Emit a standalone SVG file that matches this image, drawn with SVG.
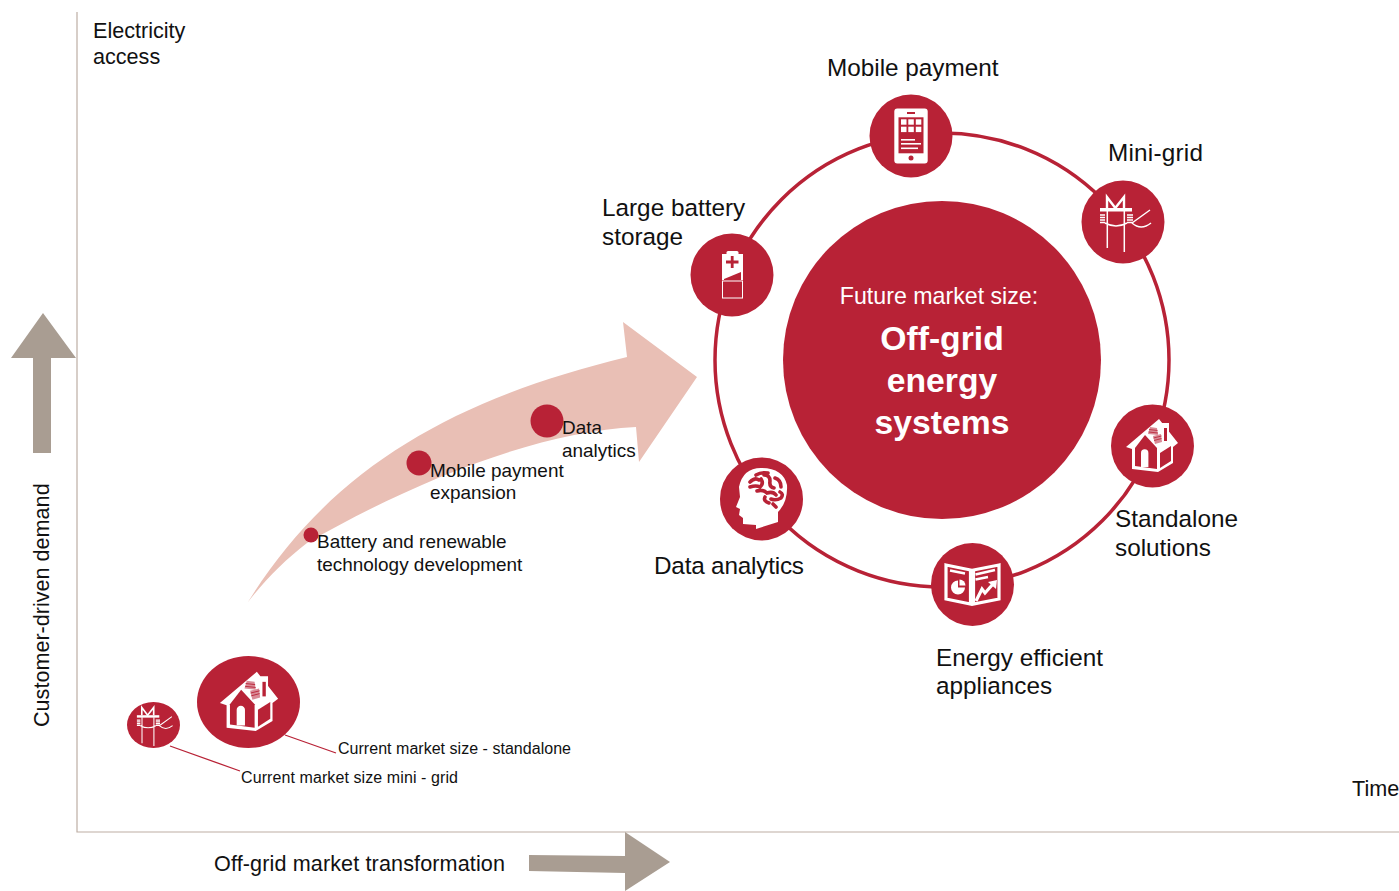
<svg xmlns="http://www.w3.org/2000/svg" width="1399" height="891" viewBox="0 0 1399 891">
<style>
text{font-family:"Liberation Sans",Arial,sans-serif;fill:#111}
.l{font-size:24.3px}.m{font-size:18.95px}.s{font-size:16px}.a{font-size:21.6px}
text.t{fill:#fff}
.r{fill:#b82236}.w{fill:#fff}
.wl{fill:none;stroke:#fff;stroke-width:1.5}
.wt{fill:none;stroke:#fff;stroke-width:2.4}
.bk{fill:none;stroke:#fff;stroke-width:3.2}
.ax{stroke:#bdaea4;stroke-width:1.2;fill:none}
.tan{fill:#a99d92}
.br{fill:none;stroke:#b82236;stroke-width:3.6;stroke-linecap:round}
</style>
<defs>
<g id="pylon">
<path d="M-16 -14V-25L-7.700 -14L1 -25V-14" class="wt"/>
<rect x="-23" y="-14" width="32" height="3.500" class="w"/>
<path class="wl" d="M-15.700 -11V26M1.300 -11V30M-23 -7H-18M-23 -4.500H-18M-23 -2H-18M-23 .5H-18M4 -7H10M4 -4.500H10M4 -2H10M4 .5H10M-18 1Q-7 7 4 1M9 1L27 -12M9 1Q18 9 28 1"/>
</g>
<g id="house">
<polygon class="w" points="-26,1 7,-27 26,-3 21,1 21,17 6,26 -20,23 -20,3"/>
<polygon class="r" points="-17,2 -7,-11 5,2 5,23 -17,20"/>
<path class="w" d="M-11 21V7a3.700 3.700 0 0 1 7.400 0V21z"/>
<polygon class="r" points="8,7 19,0 19,15 8,22"/>
<polygon points="-2,-19 5,-18 6,-11 -4,-12" fill="#d98a96"/>
<polygon points="1,-10 9,-12 10,-4 3,-2" fill="#d98a96"/>
<path d="M-3 -16.500L5.500 -15.500M-3.500 -14L6 -13M1.500 -8L9.500 -10M2 -5.500L9.500 -7.500" stroke="#b82236" stroke-width=".8" fill="none"/>
<rect x="10" y="-23" width="7" height="19" class="w"/>
<rect x="12" y="-18" width="3" height="13" class="r"/>
</g>
</defs>

<g id="axes">
<path class="ax" d="M77 12V832H1399"/>
<polygon class="tan" points="11,358 33,358 33,453 51,453 51,358 76,358 43,313"/>
<polygon class="tan" points="529,855 625,856 625,832 670,862 625,891 625,873 529,871"/>
</g>

<path id="growth-arrow" fill="#e9bfb5" d="M248 602C330 470 450 400 627 357L623 322L697 377L639 462L636 427C540 432 420 478 307 543C285 560 265 580 248 602Z"/>

<g id="connectors">
<circle cx="942" cy="360" r="227" fill="none" stroke="#b82236" stroke-width="3.500"/>
<path d="M170 746L240 771M285 735L336 753" stroke="#b82236" stroke-width="1.300" fill="none"/>
</g>

<g id="center">
<circle class="r" cx="942" cy="360" r="159"/>
<text class="t" x="939" y="304" text-anchor="middle" font-size="23.200">Future market size:</text>
<g font-size="33.700" font-weight="700" text-anchor="middle">
<text class="t" x="942" y="350">Off-grid</text>
<text class="t" x="942" y="392">energy</text>
<text class="t" x="942" y="434">systems</text>
</g>
</g>

<g id="node-mobile">
<circle class="r" cx="911" cy="136" r="41.500"/>
<g transform="translate(911 136)">
<rect x="-16.700" y="-27.500" width="33.400" height="55" rx="3" class="w"/>
<rect x="-12.500" y="-18.700" width="25" height="36" class="r"/>
<rect x="-4" y="-24" width="8" height="2" class="r"/>
<circle cy="22" r="2.500" class="r"/>
<g class="w"><rect x="-10" y="-16.700" width="5.500" height="5.400"/><rect x="-2.700" y="-16.700" width="5.500" height="5.400"/><rect x="4.800" y="-16.700" width="5.500" height="5.400"/><rect x="-10" y="-9.300" width="5.500" height="5.400"/><rect x="-2.700" y="-9.300" width="5.500" height="5.400"/><rect x="4.800" y="-9.300" width="5.500" height="5.400"/>
<rect x="-10" y="3" width="14" height="1.600"/><rect x="-10" y="7" width="20" height="1.600"/><rect x="-10" y="11.500" width="17" height="1.600"/></g>
</g>
<text class="l" x="827" y="76">Mobile payment</text>
</g>

<g id="node-minigrid">
<circle class="r" cx="1123" cy="222" r="41.500"/>
<use href="#pylon" transform="translate(1123 222)"/>
<text class="l" x="1108" y="161" textLength="95">Mini-grid</text>
</g>

<g id="node-standalone">
<circle class="r" cx="1152.500" cy="446" r="41.500"/>
<use href="#house" transform="translate(1152 446)"/>
<text class="l"><tspan x="1115" y="527">Standalone</tspan><tspan x="1115" y="556">solutions</tspan></text>
</g>

<g id="node-appliances">
<circle class="r" cx="972.500" cy="584.500" r="41.500"/>
<g transform="translate(972 584)">
<path class="bk" d="M-26 -19L-1.500 -14V20L-26 15ZM27 -19L1.500 -14V20L27 15Z"/>
<path class="wt" d="M-22 -13.500L-7 -10.500M3.500 -9.500L23 -14M3.500 -4.500L16 -7"/>
<path class="w" d="M-14 3.500V-3.500A7 7 0 1 0 -7 3.500Z"/>
<path class="w" d="M-12.500 1.500V-4.500A6 6 0 0 1 -6.500 1.500Z"/>
<path class="bk" d="M4 17L10 5L13 9L21 0"/>
<polygon class="w" points="16,-2 25,-4 24,5"/>
</g>
<text class="l"><tspan x="936" y="666">Energy efficient</tspan><tspan x="936" y="694">appliances</tspan></text>
</g>

<g id="node-data">
<circle class="r" cx="761.500" cy="499" r="41.500"/>
<g transform="translate(761 499)">
<path class="w" d="M-5 30L17 23V13Q27 3 26 -14Q22 -31 0 -31Q-18 -31 -22 -12L-21 -2L-25 8L-21 10L-22 16L-18 19V25L-5 26Z"/>
<path class="br" d="M-11 -17Q-6 -22 -2 -19M-11 -12Q-5 -14 -1 -12Q3 -15 0 -20M3 -24Q9 -24 9 -18Q8 -12 13 -11M-5 -24Q0 -27 7 -26M14 -21Q20 -19 20 -12M-4 -8Q2 -10 6 -6Q12 -8 15 -4M19 -7Q23 -5 20 -1Q15 2 10 0M4 -2Q2 2 8 4M12 5L15 8"/>
</g>
<text class="l" x="654" y="574" textLength="150">Data analytics</text>
</g>

<g id="node-battery">
<circle class="r" cx="732" cy="275" r="41.500"/>
<g transform="translate(732 275)">
<rect x="-10" y="-21" width="21" height="26" class="w"/>
<rect x="-5.500" y="-24" width="12" height="4" rx="1.500" class="w"/>
<path d="M-6 -13H6.500M0.200 -19V-7" stroke="#b82236" stroke-width="2.800" fill="none"/>
<polygon class="r" points="-8,4 9,-3 9,5 -8,5"/>
<rect x="-9.500" y="6" width="20" height="17" fill="none" stroke="#fff" stroke-width="1"/>
</g>
<text class="l"><tspan x="602" y="216">Large battery</tspan><tspan x="602" y="245">storage</tspan></text>
</g>

<g id="milestones">
<circle class="r" cx="311" cy="535" r="7.500"/>
<circle class="r" cx="419" cy="463" r="12.500"/>
<circle class="r" cx="547" cy="421" r="16.500"/>
<text class="m"><tspan x="317" y="548">Battery and renewable</tspan><tspan x="317" y="571">technology development</tspan></text>
<text class="m"><tspan x="430" y="477">Mobile payment</tspan><tspan x="430" y="499">expansion</tspan></text>
<text class="m"><tspan x="562" y="434">Data</tspan><tspan x="562" y="457">analytics</tspan></text>
</g>

<g id="current-minigrid">
<ellipse class="r" cx="153.500" cy="725" rx="26.500" ry="23"/>
<use href="#pylon" transform="translate(153 725) scale(.7)"/>
<text class="s" x="241" y="783" textLength="217">Current market size mini - grid</text>
</g>
<g id="current-standalone">
<ellipse class="r" cx="248.500" cy="702" rx="51.500" ry="46"/>
<use href="#house" transform="translate(249 702) scale(1.12)"/>
<text class="s" x="338" y="754" textLength="233">Current market size - standalone</text>
</g>

<text id="y-title" class="a" transform="translate(49 727) rotate(-90)">Customer-driven demand</text>
<text id="x-title" class="a" x="214" y="871" textLength="291">Off-grid market transformation</text>
<text id="y-end" class="a"><tspan x="93" y="38">Electricity</tspan><tspan x="93" y="64">access</tspan></text>
<text id="x-end" class="a" x="1352" y="796">Time</text>
</svg>
